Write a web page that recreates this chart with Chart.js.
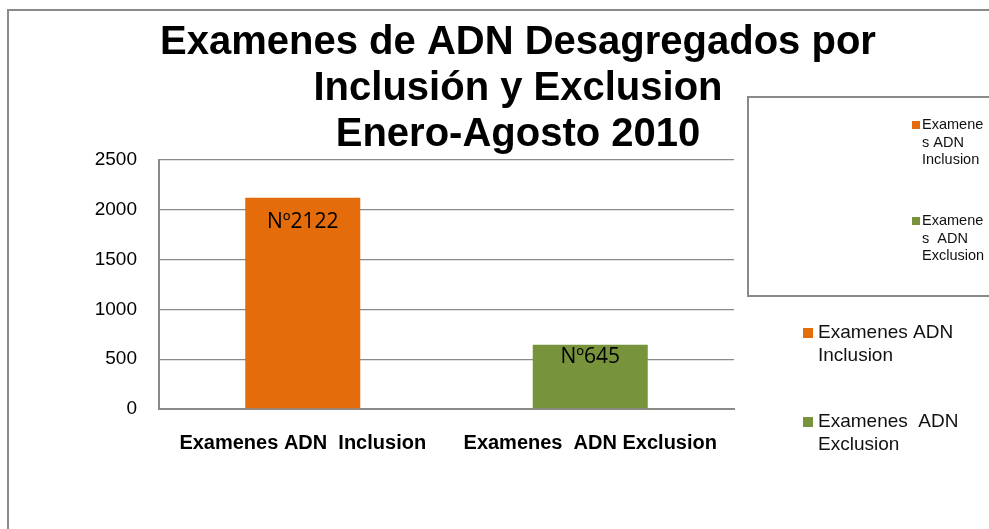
<!DOCTYPE html>
<html>
<head>
<meta charset="utf-8">
<script src="https://cdn.jsdelivr.net/npm/chart.js@4/dist/chart.umd.min.js"></script>
<style>
html,body{margin:0;padding:0;background:#fff;}
#wrap{width:989px;height:529px;}
</style>
</head>
<body>
<div id="wrap"><canvas id="c" width="989" height="529"></canvas></div>
<script>
const titleLines = ["Examenes de ADN Desagregados por", "Inclusión y Exclusion", "Enero-Agosto 2010"];
const categories = ["Examenes ADN  Inclusion", "Examenes  ADN Exclusion"];
const legendLabels = ["Examenes ADN Inclusion", "Examenes  ADN Exclusion"];
const values = [2122, 645];
const valuePrefix = "Nº";
const barColors = ["#E46C0A", "#77933C"];
const yTicks = [0, 500, 1000, 1500, 2000, 2500];

const GRAY = "#8a8a8a";

function breakWord(ctx, w, maxW, lines) {
  let piece = "";
  for (const ch of w) {
    if (ctx.measureText(piece + ch).width <= maxW) piece += ch;
    else { lines.push(piece); piece = ch; }
  }
  return piece;
}

function wrapText(ctx, text, maxW) {
  const parts = text.split(/( +)/).filter(p => p !== "");
  const lines = [];
  let cur = "";
  for (const w of parts) {
    if (/^ +$/.test(w)) { if (cur !== "") cur += w; continue; }
    const test = cur + w;
    if (ctx.measureText(test).width <= maxW) { cur = test; continue; }
    if (cur.trim() !== "") lines.push(cur.trimEnd());
    cur = ctx.measureText(w).width <= maxW ? w : breakWord(ctx, w, maxW, lines);
  }
  if (cur.trim() !== "") lines.push(cur.trimEnd());
  return lines;
}

const framePlugin = {
  id: "frame",
  beforeDraw(chart) {
    const ctx = chart.ctx;
    ctx.save();
    ctx.fillStyle = "#fff";
    ctx.fillRect(0, 0, chart.width, chart.height);
    ctx.strokeStyle = GRAY;
    ctx.lineWidth = 2;
    ctx.strokeRect(8, 10, 1100, 700);
    ctx.strokeRect(748, 97, 300, 199);
    ctx.restore();
  },
  afterLayout(chart) {
    if (chart.titleBlock) { chart.titleBlock.left = 47; chart.titleBlock.right = 989; }
  }
};

const labelPlugin = {
  id: "barLabels",
  afterDatasetsDraw(chart, args, opts) {
    const ctx = chart.ctx;
    const meta = chart.getDatasetMeta(0);
    ctx.save();
    ctx.font = "21px 'Open Sans'";
    ctx.fillStyle = "#000";
    ctx.textAlign = "center";
    ctx.textBaseline = "middle";
    meta.data.forEach((bar, i) => {
      ctx.fillText(valuePrefix + chart.data.datasets[0].data[i], bar.x, bar.y + opts.offsets[i]);
    });
    ctx.restore();
  }
};

const legendPlugin = {
  id: "customLegends",
  afterDraw(chart, args, opts) {
    const ctx = chart.ctx;
    ctx.save();
    ctx.textBaseline = "middle";
    ctx.textAlign = "left";
    for (const L of opts.legends) {
      ctx.font = L.font;
      legendLabels.forEach((lab, i) => {
        const y0 = L.y[i];
        ctx.fillStyle = barColors[i];
        ctx.fillRect(L.boxX, y0 - L.box / 2, L.box, L.box);
        ctx.fillStyle = "#111";
        const lines = wrapText(ctx, lab, L.maxW);
        lines.forEach((ln, j) => ctx.fillText(ln, L.textX, y0 + j * L.lh));
      });
    }
    ctx.restore();
  }
};

new Chart(document.getElementById("c"), {
  type: "bar",
  data: {
    labels: categories,
    datasets: [{
      label: "Examenes ADN",
      data: values,
      backgroundColor: barColors,
      borderWidth: 0,
      categoryPercentage: 1.0,
      barPercentage: 0.4
    }]
  },
  options: {
    responsive: false,
    animation: false,
    devicePixelRatio: 1,
    layout: { padding: { left: 8, right: 255, top: 10, bottom: 75 } },
    plugins: {
      legend: { display: false },
      tooltip: { enabled: false },
      title: {
        display: true,
        text: titleLines,
        color: "#000",
        font: { family: "'Liberation Sans', Arial, sans-serif", size: 40, weight: "bold", lineHeight: 1.15 },
        padding: { top: 10, bottom: 2 }
      },
      barLabels: { offsets: [24, 12] },
      customLegends: {
        legends: [
          { font: "14.5px 'Liberation Sans', Arial", boxX: 912, box: 8, textX: 922, maxW: 66, lh: 17.5, y: [125, 221] },
          { font: "19px 'Liberation Sans', Arial", boxX: 803, box: 10, textX: 818, maxW: 168, lh: 23, y: [333, 422] }
        ]
      }
    },
    scales: {
      x: {
        afterFit(scale) { scale.height = 45; },
        grid: { display: false, drawTicks: false },
        border: { display: true, color: GRAY, width: 2 },
        ticks: {
          color: "#000",
          padding: 22,
          maxRotation: 0,
          autoSkip: false,
          font: { family: "'Liberation Sans', Arial, sans-serif", size: 20, weight: "bold" }
        }
      },
      y: {
        min: 0,
        max: 2500,
        afterFit(scale) { scale.width = 151; },
        afterBuildTicks(scale) { scale.ticks = yTicks.map(v => ({ value: v })); },
        grid: { color: GRAY, lineWidth: 1.3, drawTicks: false },
        border: { display: true, color: GRAY, width: 2 },
        ticks: {
          color: "#000",
          padding: 22,
          callback: (v) => String(v),
          font: { family: "'Liberation Sans', Arial, sans-serif", size: 19 }
        }
      }
    }
  },
  plugins: [framePlugin, labelPlugin, legendPlugin]
});
</script>
</body>
</html>
